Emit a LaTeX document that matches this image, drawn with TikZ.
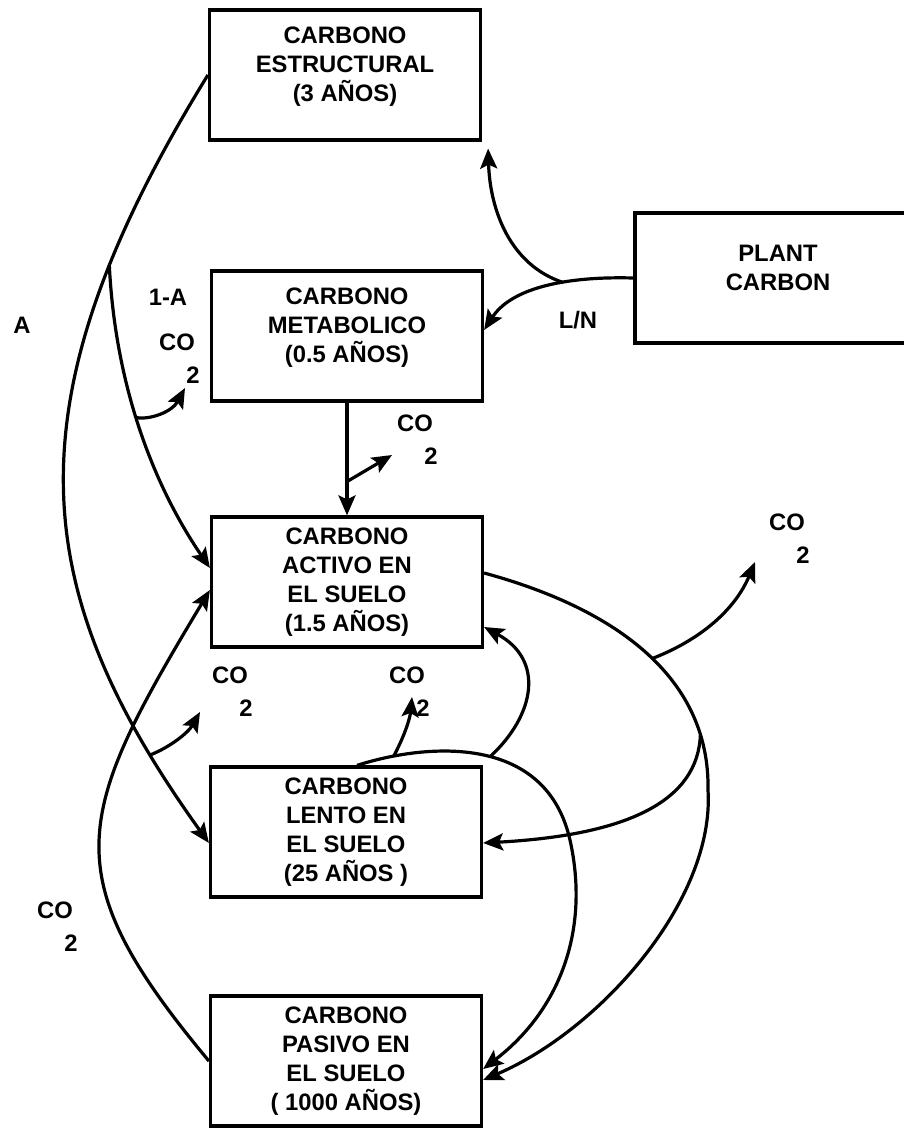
\documentclass[tikz,border=0pt]{standalone}
\usepackage{fontspec}
\setmainfont{Liberation Sans}
\usetikzlibrary{arrows.meta,positioning,calc}
\newcommand{\cotwo}[3]{\node (co#1) at (#2,#3) {CO}; \node (two#1) at ([shift={(8pt,-16.5pt)}]co#1) {2};}

\begin{document}
\begin{tikzpicture}[x=0.5pt, y=0.5pt, line width=1.6pt,
  >={Stealth[length=10pt,width=8.5pt,inset=2pt]},
  font=\fontsize{11.9}{14.5}\selectfont\bfseries,
  box/.style={draw, minimum width=135.5pt, minimum height=65pt, inner sep=0pt, align=center}]
\useasboundingbox (0,0) rectangle (904,-1129);
% pools
\node[box] (estr) at (345,-75) {CARBONO\\ESTRUCTURAL\\(3 AÑOS)\\[-4pt]\mbox{}};
\node[box] (metab) at (347,-336) {CARBONO\\METABOLICO\\(0.5 AÑOS)\\[-4pt]\mbox{}};
\node[box, minimum width=143pt] (plant) at (778,-278) {PLANT\\CARBON\\[-4pt]\mbox{}};
\node[box] (activo) at (347,-582) {CARBONO\\ACTIVO EN\\EL SUELO\\(1.5 AÑOS)};
\node[box] (lento) at (346,-832) {CARBONO\\LENTO EN\\EL SUELO\\(25 AÑOS )};
\node[box] (pasivo) at (346,-1061) {CARBONO\\PASIVO EN\\EL SUELO\\( 1000 AÑOS)};
% labels
\node (labA) at (22,-325) {A};
\node (labOneA) at (168,-297) {1-A};
\node (labLN) at (578,-320) {L/N};
\cotwo{a}{177}{-342}
\cotwo{b}{415}{-423}
\cotwo{c}{787}{-522}
\cotwo{d}{230}{-675}
\cotwo{e}{407}{-675}
\cotwo{f}{55}{-910}
\coordinate (outa) at (185,-388);
\coordinate (outb) at (392,-455);
\coordinate (outc) at (755,-562);
\coordinate (outd) at (200,-712);
\coordinate (oute) at (412,-697);
% plant carbon
\draw[->] (plant.west) .. controls (560,-276) and (510,-290) .. ([yshift=3pt]metab.east) coordinate[pos=0.36] (jPlant);
\draw[->] (jPlant) .. controls (510,-265) and (490,-210) .. ([shift={(3pt,-3.5pt)}]estr.south east);
% estructural
\draw[->] (estr.west) .. controls (5,-404) and (28,-591) .. ([yshift=-5.5pt]lento.west) coordinate[pos=0.21] (jA) coordinate[pos=0.88] (jAco);
\draw[->] (jA) .. controls (115,-380) and (150,-480) .. ([yshift=7pt]activo.west) coordinate[pos=0.47] (jOneA);
\draw[->] (jOneA) .. controls (150,-420) and (172,-412) .. (outa);
\draw[->] (jAco) .. controls (170,-747) and (188,-733) .. (outd);
% metabolico
\draw[->] (metab.south) -- (activo.north) coordinate[pos=0.7] (jMet);
\draw[->] (jMet) -- (outb);
% activo
\draw[->] ([yshift=4.5pt]activo.east) .. controls (620,-610) and (710,-680) .. (708,-790) coordinate[pos=0.52] (jAct) coordinate[pos=0.82] (jActL)
  .. controls (715,-900) and (600,-1030) .. ([yshift=-9.5pt]pasivo.east);
\draw[->] (jAct) .. controls (700,-640) and (735,-610) .. (outc);
\draw[->] (jActL) .. controls (698,-800) and (630,-835) .. ([yshift=-5.5pt]lento.east);
% lento
\draw[->] ([xshift=5.5pt]lento.north) .. controls (420,-745) and (545,-730) .. (570,-840) coordinate[pos=0.17] (jLenCO) coordinate[pos=0.55] (jLenA)
  .. controls (590,-930) and (560,-1010) .. ([yshift=-4pt]pasivo.east);
\draw[->] (jLenCO) .. controls (405,-735) and (410,-718) .. (oute);
\draw[->] (jLenA) .. controls (535,-715) and (545,-660) .. ([yshift=-22.5pt]activo.east);
% pasivo
\draw[->] (pasivo.west) .. controls (53,-874) and (74,-816) .. ([yshift=-4pt]activo.west);
\end{tikzpicture}
\end{document}
